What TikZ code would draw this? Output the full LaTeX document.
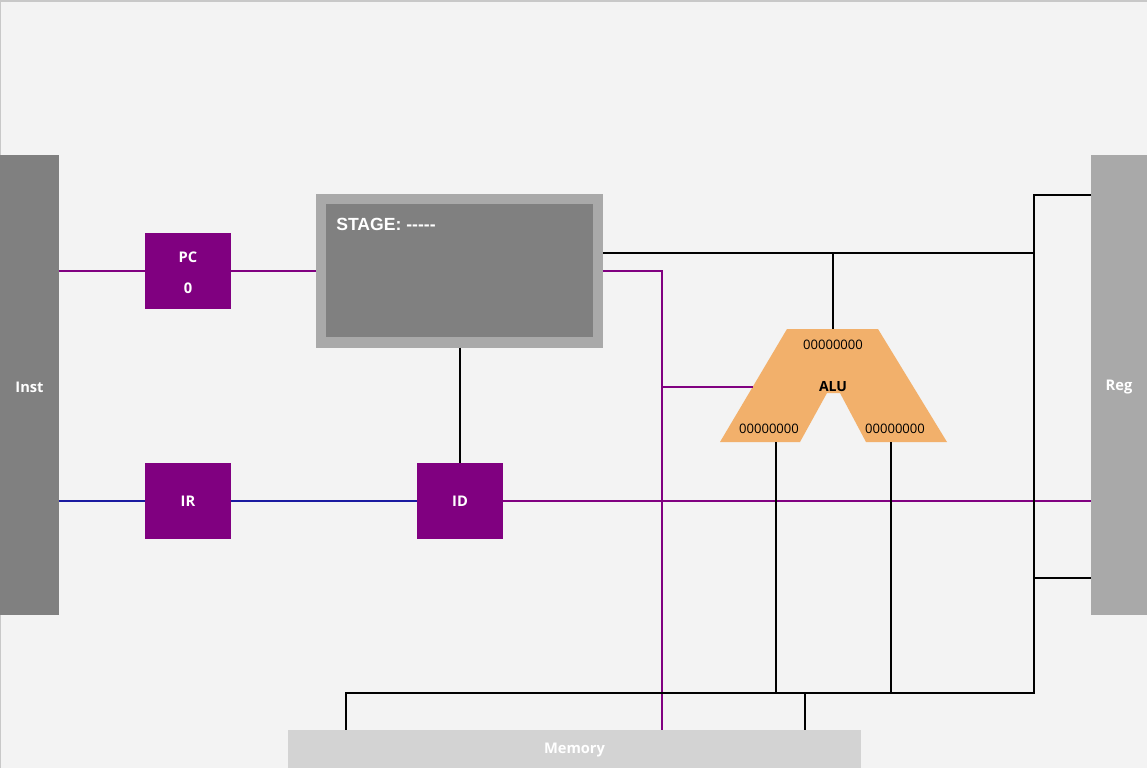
\documentclass[tikz,border=0pt]{standalone}
\usepackage{fontspec}
\setmainfont{Open Sans}
\newfontfamily\arialf{Liberation Sans}
\definecolor{bgc}{HTML}{F3F3F3}
\definecolor{bordc}{HTML}{C8C8C8}
\definecolor{instc}{HTML}{808080}
\definecolor{regc}{HTML}{A9A9A9}
\definecolor{memc}{HTML}{D3D3D3}
\definecolor{purp}{HTML}{800080}
\definecolor{bluel}{HTML}{1A1AA0}
\definecolor{aluc}{HTML}{F2B06B}
\tikzset{
  blk/.style={inner sep=0pt, outer sep=0pt, draw=none},
  lab/.style={text=white, font=\bfseries\fontsize{11}{13}\selectfont, inner sep=0pt},
  num/.style={text=black, font=\fontsize{9.8}{11}\selectfont, inner sep=0pt},
  pl/.style={draw=purp, line width=1.5pt},
  bl/.style={draw=bluel, line width=1.5pt},
  kl/.style={draw=black, line width=1.5pt},
}
\begin{document}
\begin{tikzpicture}[x=0.75pt,y=-0.75pt]
\useasboundingbox (0,0) rectangle (1147,768);
\fill[bgc] (0,0) rectangle (1147,768);
\fill[bordc] (0,0) rectangle (1147,2);
\fill[bordc] (0,0) rectangle (1,768);

% blocks
\node[blk, fill=instc, minimum width=59*0.75pt, minimum height=460*0.75pt] (inst) at (29.5,385) {};
\node[lab] (instl) at (29.5,387) {Inst};
\node[blk, fill=regc, minimum width=56*0.75pt, minimum height=460*0.75pt] (reg) at (1119,385) {};
\node[lab] (regl) at (1119,387) {Reg};
\node[blk, fill=purp, minimum width=86*0.75pt, minimum height=76*0.75pt] (pc) at (188,270.5) {};
\node[lab] (pcl) at (188,257) {PC};
\node[lab] (pcv) at (188,288) {0};
\node[blk, fill=purp, minimum width=86*0.75pt, minimum height=76*0.75pt] (ir) at (188,500.5) {};
\node[lab] (irl) at (188,501) {IR};
\node[blk, fill=purp, minimum width=86*0.75pt, minimum height=76*0.75pt] (id) at (460,500.5) {};
\node[lab] (idl) at (460,501) {ID};
\node[blk, fill=regc, minimum width=287*0.75pt, minimum height=154*0.75pt] (stage) at (459.5,270.5) {};
\node[blk, fill=instc, minimum width=267*0.75pt, minimum height=133*0.75pt] (stagein) at (459.5,270.5) {};
\node[text=white, inner sep=0pt, anchor=west, font=\arialf\bfseries\fontsize{13.2}{15}\selectfont] (stagel) at (336,224) {STAGE: -----};
\node[blk, fill=memc, minimum width=573*0.75pt, minimum height=38*0.75pt] (mem) at (574.5,749) {};
\node[lab] (meml) at (574.5,750) {Memory};

% ALU
\coordinate (a1) at (787,329);
\coordinate (a2) at (878,329);
\coordinate (a3) at (947,442);
\coordinate (a4) at (866,442);
\coordinate (a5) at (840,393);
\coordinate (a6) at (827,393);
\coordinate (a7) at (800,442);
\coordinate (a8) at (720,442);
\fill[aluc] (a1) -- (a2) -- (a3) -- (a4) -- (a5) -- (a6) -- (a7) -- (a8) -- cycle;
\node[num] (aluo) at (833,345) {00000000};
\node[text=black, inner sep=0pt, font=\bfseries\fontsize{10.5}{12}\selectfont] (alul) at (833,387) {ALU};
\node[num] (alua) at (769,429) {00000000};
\node[num] (alub) at (895,429) {00000000};
\coordinate (aluin) at (752.5,387);
\coordinate (alutop) at (833,329);
\coordinate (aluba) at (776,442);
\coordinate (alubb) at (891,442);

% junctions
\coordinate (j1) at (662,270.5);
\coordinate (j2) at (662,387);
\coordinate (s1) at (603,253);
\coordinate (t1) at (833,253);
\coordinate (b0) at (1034,195);
\coordinate (b1) at (1034,253);
\coordinate (b2) at (1034,578);
\coordinate (b3) at (1034,693);
\coordinate (m0) at (346,693);
\coordinate (m1) at (805,693);

% purple connectors
\draw[pl] (inst.east |- pc.west) -- (pc.west);
\draw[pl] (pc.east) -- (stage.west);
\draw[pl] (stage.east) -- (j1) -- (j1 |- mem.north);
\draw[pl] (j2) -- (aluin);
\draw[pl] (id.east) -- (reg.west |- id.east);
% blue connectors
\draw[bl] (inst.east |- ir.west) -- (ir.west);
\draw[bl] (ir.east) -- (id.west);
% black connectors
\draw[kl] (stage.south -| id.north) -- (id.north);
\draw[kl] (s1) -- (b1);
\draw[kl] (t1) -- (alutop);
\draw[kl] (reg.west |- b0) -- (b0) -- (b3) -- (m0) -- (m0 |- mem.north);
\draw[kl] (b2) -- (reg.west |- b2);
\draw[kl] (aluba) -- (aluba |- b3);
\draw[kl] (alubb) -- (alubb |- b3);
\draw[kl] (m1) -- (m1 |- mem.north);
\end{tikzpicture}
\end{document}
